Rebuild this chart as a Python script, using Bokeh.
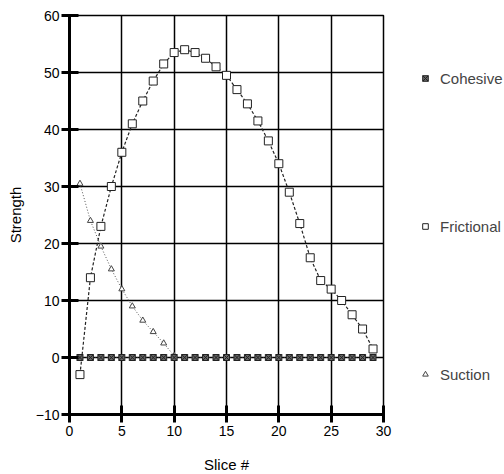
from bokeh.plotting import figure
from bokeh.models import Legend, LegendItem, FixedTicker, Range1d
from bokeh.embed import file_html
from bokeh.resources import INLINE

slices = list(range(1, 30))
cohesive = [0] * 29
frictional = [-3, 14, 23, 30, 36, 41, 45, 48.5, 51.5, 53.5, 54, 53.5, 52.5, 51,
              49.5, 47, 44.5, 41.5, 38, 34, 29, 23.5, 17.5, 13.5, 12, 10, 7.5, 5, 1.5]
suction_x = list(range(1, 11))
suction = [30.5, 24, 19.5, 15.5, 12, 9, 6.5, 4.5, 2.5, 0.3]

FONT = "Liberation Sans"

p = figure(frame_width=314, frame_height=399, output_backend="svg", toolbar_location=None,
           x_range=Range1d(0, 30), y_range=Range1d(-10, 60),
           min_border_left=69, min_border_top=15, min_border_bottom=58, min_border_right=0)

p.xaxis.ticker = FixedTicker(ticks=[0, 5, 10, 15, 20, 25, 30])
p.yaxis.ticker = FixedTicker(ticks=[-10, 0, 10, 20, 30, 40, 50, 60])
for ax in (p.xaxis[0], p.yaxis[0]):
    ax.axis_line_width = 3
    ax.axis_line_color = "black"
    ax.major_tick_line_width = 3
    ax.major_tick_line_color = "black"
    ax.major_tick_in = 9
    ax.major_tick_out = 8
    ax.minor_tick_line_color = None
    ax.major_label_text_font = FONT
    ax.major_label_text_font_size = "14px"
    ax.major_label_text_color = "black"
    ax.axis_label_text_font = FONT
    ax.axis_label_text_font_size = "15px"
    ax.axis_label_text_font_style = "normal"
    ax.axis_label_text_color = "black"
p.xaxis.axis_label = "Slice #"
p.yaxis.axis_label = "Strength"
p.xaxis.axis_label_standoff = 17
p.yaxis.axis_label_standoff = 9
p.yaxis.major_label_standoff = 2
p.xaxis.major_label_standoff = 3

p.xgrid.grid_line_color = "black"
p.ygrid.grid_line_color = "black"
p.xgrid.grid_line_width = 1.5
p.ygrid.grid_line_width = 1.5
p.xgrid.grid_line_alpha = 1
p.ygrid.grid_line_alpha = 1
p.outline_line_color = "black"
p.outline_line_width = 1.5

# Suction
sl = p.line(suction_x, suction, line_color="#555555", line_dash="1 2", line_width=1)
ss = p.scatter(suction_x, suction, marker="triangle", size=6, fill_color="white",
               line_color="#444444", line_width=1)
# Frictional
fl = p.line(slices, frictional, line_color="#222222", line_dash="3 2", line_width=1.2)
fs = p.scatter(slices, frictional, marker="square", size=8, fill_color="white",
               line_color="#222222", line_width=1)
# Cohesive
cl = p.line(slices, cohesive, line_color="#222222", line_dash="1 2", line_width=1.2)
cs = p.scatter(slices, cohesive, marker="square_x", size=6, fill_color="#666666",
               line_color="#222222", line_width=1)

legend = Legend(items=[
    LegendItem(label="Cohesive", renderers=[cs]),
    LegendItem(label="Frictional", renderers=[fs]),
    LegendItem(label="Suction", renderers=[ss]),
], location=(35, 30), spacing=128, glyph_width=14, glyph_height=20,
    label_text_font=FONT, label_text_font_size="15px", border_line_color=None,
    background_fill_alpha=0, margin=34, padding=4, label_standoff=8)
p.add_layout(legend, "right")

open("out.html", "w").write(file_html(p, INLINE))
